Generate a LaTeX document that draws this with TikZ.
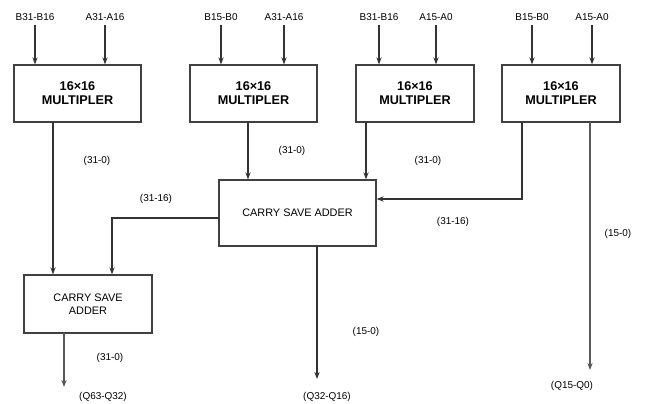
\documentclass[tikz,border=0pt]{standalone}
\usepackage{fontspec}
\setmainfont{Liberation Sans}
\usetikzlibrary{arrows.meta}
\tikzset{
  unit box/.style={
    draw=black!75,
    line width=1.1pt,
    fill=white,
    align=center,
    inner sep=2pt
  },
  mult box/.style={
    unit box,
    font=\fontsize{10.8}{12}\selectfont\bfseries,
    minimum height=1.71cm
  },
  adder box/.style={
    unit box,
    font=\fontsize{9.3}{11}\selectfont
  },
  wire/.style={
    -{Stealth[length=6pt,width=4.5pt]},
    line width=0.9pt,
    color=black!80
  },
  in label/.style={
    font=\fontsize{8.5}{9}\selectfont,
    inner sep=1pt
  },
  bus label/.style={
    font=\fontsize{8.5}{9}\selectfont,
    inner sep=1pt
  }
}

\begin{document}
\begin{tikzpicture}[x=0.03cm, y=-0.03cm, >=Stealth]
    \useasboundingbox (0,0) rectangle (648,404);
    \clip (0,0) rectangle (648,404);

    % multipliers
    \node[mult box, minimum width=3.81cm] (M1) at (77.5,93.5)  {16×16\\MULTIPLER};
    \node[mult box, minimum width=3.81cm] (M2) at (253.5,93.5) {16×16\\MULTIPLER};
    \node[mult box, minimum width=3.54cm] (M3) at (415,93.5)   {16×16\\MULTIPLER};
    \node[mult box, minimum width=3.54cm] (M4) at (561,93.5)   {16×16\\MULTIPLER};

    % adders
    \node[adder box, minimum width=4.71cm, minimum height=1.98cm] (CSA1) at (297.5,213) {CARRY SAVE ADDER};
    \node[adder box, minimum width=3.84cm, minimum height=1.74cm] (CSA2) at (88,304) {CARRY SAVE\\ADDER};

    % operand inputs
    \node[in label] (inB1) at (35,17)  {B31-B16};
    \node[in label] (inA1) at (105,17) {A31-A16};
    \node[in label] (inB2) at (221,17) {B15-B0};
    \node[in label] (inA2) at (284,17) {A31-A16};
    \node[in label] (inB3) at (379,17) {B31-B16};
    \node[in label] (inA3) at (436,17) {A15-A0};
    \node[in label] (inB4) at (532,17) {B15-B0};
    \node[in label] (inA4) at (592,17) {A15-A0};
    \foreach \l/\m in {inB1/M1, inA1/M1, inB2/M2, inA2/M2, inB3/M3, inA3/M3, inB4/M4, inA4/M4}
      \draw[wire] ([yshift=-3pt]\l.south) -- (\l.south |- \m.north);

    % tap points
    \coordinate (m1out) at (53,122);
    \coordinate (m2out) at (248,122);
    \coordinate (m3out) at (366,122);
    \coordinate (m4lo)  at (522,122);
    \coordinate (m4hi)  at (590,122);
    \coordinate (m4bend) at (522,199);
    \coordinate (c1left) at (219,218);
    \coordinate (c1bend) at (112,218);
    \coordinate (c1out) at (317,246);
    \coordinate (c2out) at (64,333);
    \coordinate (qlow)  at (590,370);
    \coordinate (qmid)  at (317,379);
    \coordinate (qhigh) at (64,387);

    % partial products
    \draw[wire] (m1out) -- (m1out |- CSA2.north);
    \draw[wire] (m2out) -- (m2out |- CSA1.north);
    \draw[wire] (m3out) -- (m3out |- CSA1.north);
    \draw[wire] (m4lo) -- (m4bend) -- (m4bend -| CSA1.east);
    \draw[wire, color=black!65] (m4hi) -- (qlow);

    % adder outputs
    \draw[wire] (c1left) -- (c1bend) -- (c1bend |- CSA2.north);
    \draw[wire] (c1out) -- (qmid);
    \draw[wire, color=black!65] (c2out) -- (qhigh);

    % bus widths
    \node[bus label] (w1) at (97,161)  {(31-0)};
    \node[bus label] (w2) at (292,151) {(31-0)};
    \node[bus label] (w3) at (428,161) {(31-0)};
    \node[bus label] (w4) at (156,199) {(31-16)};
    \node[bus label] (w5) at (453,222) {(31-16)};
    \node[bus label] (w6) at (618,234) {(15-0)};
    \node[bus label] (w7) at (366,332) {(15-0)};
    \node[bus label] (w8) at (110,358) {(31-0)};

    % results
    \node[bus label] (r1) at (103,397) {(Q63-Q32)};
    \node[bus label] (r2) at (327,397) {(Q32-Q16)};
    \node[bus label] (r3) at (572,386) {(Q15-Q0)};

\end{tikzpicture}
\end{document}
